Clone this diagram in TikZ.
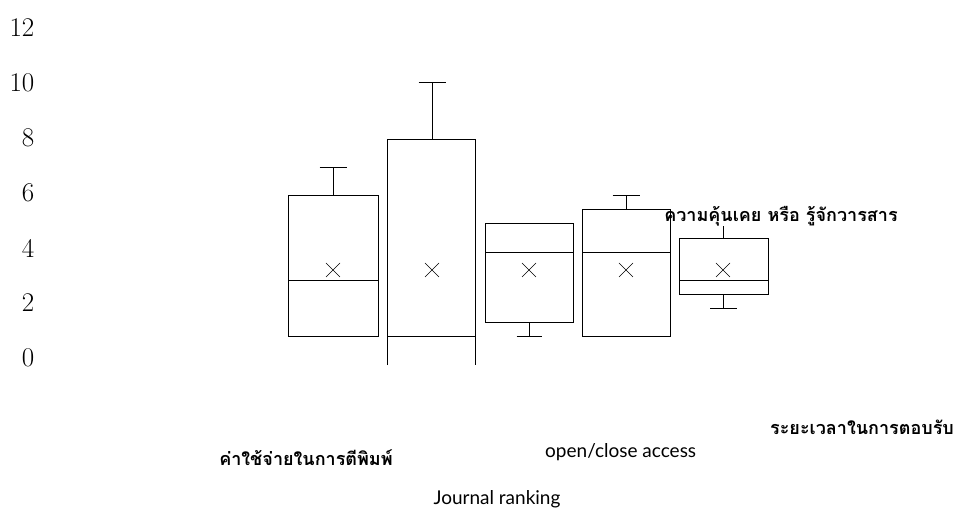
\documentclass[tikz,border=0pt]{standalone}
\usepackage{fontspec}
\newfontfamily\thaifont[Script=Thai]{Loma}
\newfontfamily\latinfont{Lato}
\begin{document}
\begin{tikzpicture}[x=1pt,y=1pt,
  box/.style={line width=1pt},
  mean/.style={line width=0.6pt},
  thlabel/.style={font=\thaifont\bfseries\fontsize{18}{21}\selectfont, inner sep=0pt},
  enlabel/.style={font=\latinfont\fontsize{19}{22}\selectfont, inner sep=0pt},
  ticklabel/.style={font=\fontsize{27}{30}\selectfont, anchor=east, inner sep=0pt}]
\useasboundingbox (0,0) rectangle (961,512);
\def\cross{+(-7pt,-7pt) -- +(7pt,7pt) +(-7pt,7pt) -- +(7pt,-7pt)}

% axis numbers
\foreach \n [count=\i from 0] in {0,2,...,12}
  \node[ticklabel] (t\n) at (34.5,154+55*\i) {\n};

% category labels
\node[thlabel] (l1) at (306,54) {ค่าใช้จ่ายในการตีพิมพ์};
\node[enlabel] (l2) at (497,13) {Journal ranking};
\node[enlabel, anchor=west] (l3) at (545,60) {open/close access};
\node[thlabel] (l4) at (862,85) {ระยะเวลาในการตอบรับ};
\node[thlabel] (l5) at (781,296) {ความคุ้นเคย หรือ รู้จักวารสาร};

\begin{scope}[yshift=147pt, y=28.2pt]
% box 1
\draw[box] (288,1) rectangle (378,6);
\draw[box] (288,3) -- (378,3);
\draw[box] (333,6) -- (333,7) (319.5,7) -- (346.5,7);
\draw[mean] (333,3.37) \cross;
% box 2
\draw[box] (387,0) -- (387,8) -- (475,8) -- (475,0);
\draw[box] (387,1) -- (475,1);
\draw[box] (432,8) -- (432,10) (418.5,10) -- (445.5,10);
\draw[mean] (432,3.37) \cross;
% box 3
\draw[box] (485,1.5) rectangle (573,5);
\draw[box] (485,4) -- (573,4);
\draw[box] (529,1.5) -- (529,1) (516.5,1) -- (541.5,1);
\draw[mean] (529,3.37) \cross;
% box 4
\draw[box] (582,1) rectangle (670,5.5);
\draw[box] (582,4) -- (670,4);
\draw[box] (626,5.5) -- (626,6) (612.5,6) -- (639.5,6);
\draw[mean] (626,3.37) \cross;
% box 5
\draw[box] (679,2.5) rectangle (768,4.5);
\draw[box] (679,3) -- (768,3);
\coordinate (w5) at (723,4.5);
\draw[box] (w5) -- (w5 |- l5.south);
\draw[box] (723,2.5) -- (723,2) (710,2) -- (737,2);
\draw[mean] (723,3.37) \cross;
\end{scope}
\end{tikzpicture}
\end{document}
